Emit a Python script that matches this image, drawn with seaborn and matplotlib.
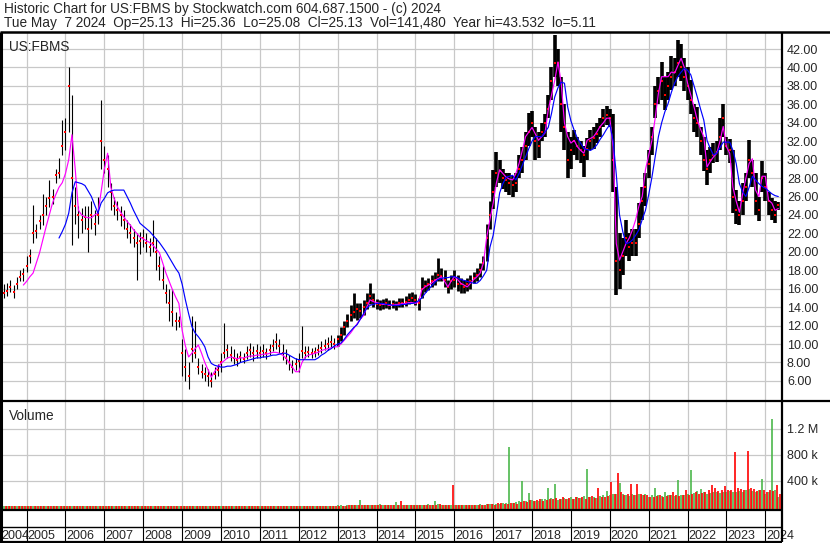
import numpy as np
import pandas as pd
import matplotlib
matplotlib.use("Agg")
import matplotlib.pyplot as plt
import seaborn as sns

sns.set_style("white")
plt.rcParams['font.family'] = ['Liberation Sans', 'DejaVu Sans']

nan = np.nan

# monthly bars, Jun 2004 .. May 2024
close = [
    15.5, 15.8, 16.2, 15.6, 16.5, 17.3, 17.6,                                # 2004
    18.5, 19.5, 22.0, 22.3, 23.3, 24.0, 25.0, 25.8, 26.0, 28.3, 28.5, 31.5,  # 2005
    33.0, 38.0, 28.0, 25.0, 24.0, 23.5, 23.8, 22.5, 24.0, 23.0, 24.0, 32.0,  # 2006
    30.0, 29.0, 26.5, 25.0, 24.5, 24.0, 23.5, 22.5, 22.0, 21.5, 21.0, 21.2,  # 2007
    21.5, 21.0, 20.5, 21.0, 20.0, 18.5, 17.0, 15.5, 14.5, 13.5, 12.5, 12.5,  # 2008
    9.0, 7.5, 6.5, 9.5, 9.0, 7.5, 7.0, 6.8, 6.5, 6.0, 6.8, 7.2,              # 2009
    8.0, 9.0, 9.3, 8.8, 8.5, 8.3, 8.6, 8.4, 9.0, 9.3, 9.0, 9.2,              # 2010
    9.0, 9.2, 9.0, 9.3, 9.8, 10.2, 9.8, 9.0, 8.5, 8.0, 7.5, 7.8,             # 2011
    8.2, 9.2, 9.0, 9.1, 9.0, 9.1, 9.3, 9.6, 9.8, 10.0, 10.2, 10.0,           # 2012
    10.5, 11.0, 11.8, 12.5, 13.2, 13.5, 13.8, 13.6, 14.0, 14.5, 15.2, 14.8,  # 2013
    14.3, 14.2, 14.3, 14.4, 14.2, 14.3, 14.2, 14.5, 14.4, 14.6, 14.8, 15.0,  # 2014
    14.8, 14.5, 16.0, 16.3, 16.5, 16.8, 17.0, 17.5, 17.4, 17.0, 16.2, 16.8,  # 2015
    17.0, 16.5, 16.5, 16.2, 16.5, 16.8, 17.2, 17.5, 18.0, 18.8, 21.5, 24.0,  # 2016
    26.5, 28.5, 28.8, 28.0, 27.8, 27.5, 27.2, 27.5, 29.0, 30.0, 31.5, 33.0,  # 2017
    34.0, 32.0, 31.5, 33.0, 34.0, 35.5, 38.5, 40.5, 40.5, 36.0, 33.5, 30.0,  # 2018
    31.0, 32.0, 31.5, 31.0, 30.5, 31.2, 32.0, 32.3, 32.8, 33.5, 34.5, 34.8,  # 2019
    34.5, 30.0, 19.0, 18.0, 19.5, 21.5, 20.5, 21.0, 21.0, 23.0, 25.5, 27.0,  # 2020
    29.5, 32.5, 36.0, 37.5, 38.5, 37.0, 38.0, 39.0, 39.5, 40.5, 40.0, 39.0,  # 2021
    38.0, 36.5, 34.5, 34.0, 32.0, 30.0, 29.0, 30.0, 30.5, 30.8, 32.5, 34.5,  # 2022
    31.5, 31.0, 26.0, 24.5, 24.0, 25.5, 27.0, 30.0, 28.5, 25.5, 24.5, 28.0,  # 2023
    27.0, 25.5, 24.5, 24.0, 25.13,                                           # 2024
]
high = [
    16.5, 16.6, 17.0, 16.4, 17.3, 18.0, 18.3,
    19.5, 20.3, 25.1, 23.0, 24.0, 26.3, 26.0, 27.8, 26.8, 29.0, 30.2, 34.3,
    34.5, 40.0, 37.0, 27.0, 25.0, 24.8, 25.0, 25.0, 25.5, 24.5, 26.0, 36.5,
    31.5, 30.5, 27.5, 26.0, 25.5, 25.0, 24.5, 23.5, 23.0, 22.5, 22.0, 22.2,
    22.5, 22.0, 21.5, 23.5, 21.5, 19.5, 18.5, 16.5, 16.0, 16.0, 13.5, 13.0,
    10.5, 9.5, 8.0, 13.0, 12.5, 8.5, 7.8, 7.5, 7.3, 7.0, 7.5, 7.8,
    9.0, 12.3, 10.0, 9.8, 9.5, 9.0, 9.2, 9.0, 9.8, 10.1, 9.8, 10.0,
    9.8, 10.0, 9.6, 10.0, 10.6, 11.2, 10.5, 10.0, 9.5, 8.8, 8.3, 8.5,
    9.0, 12.0, 9.8, 9.8, 9.6, 9.7, 10.0, 10.3, 10.6, 10.8, 11.0, 10.7,
    11.0, 11.8, 12.5, 13.3, 14.2, 15.5, 14.5, 14.5, 14.8, 15.5, 16.6, 15.5,
    14.9, 14.8, 14.9, 15.0, 14.8, 14.8, 14.7, 15.0, 15.0, 15.2, 15.5, 15.6,
    15.4, 15.0, 17.3, 17.0, 17.2, 17.5, 17.8, 19.3, 18.2, 18.0, 17.0, 17.5,
    18.0, 17.5, 17.2, 17.0, 17.2, 17.5, 17.8, 18.2, 18.8, 19.6, 23.0, 25.5,
    28.9, 30.8, 30.0, 29.0, 28.6, 28.5, 28.2, 28.5, 30.5, 31.4, 33.0, 35.1,
    35.3, 33.5, 33.0, 34.0, 35.0, 37.0, 40.0, 43.5, 42.0, 39.0, 36.0, 33.0,
    32.5, 33.2, 32.5, 32.0, 31.5, 32.3, 33.2, 33.5, 34.0, 34.5, 35.5, 35.8,
    35.5, 35.0, 27.0, 22.0, 21.5, 23.5, 22.0, 22.5, 22.5, 25.3, 27.0, 28.5,
    31.0, 33.5, 38.0, 39.0, 40.6, 39.0, 39.5, 41.2, 41.0, 43.0, 42.5, 41.0,
    40.0, 38.6, 36.0, 35.7, 33.5, 32.5, 31.0, 31.4, 31.8, 32.0, 34.5, 36.0,
    32.5, 32.2, 31.0, 26.7, 25.5, 27.5, 28.5, 32.1, 30.0, 28.5, 26.0, 29.9,
    28.5, 26.5, 25.8, 25.5, 25.36,
]
low = [
    15.0, 15.2, 15.6, 15.0, 16.0, 16.8, 16.8,
    17.8, 18.8, 21.0, 21.5, 22.5, 22.9, 24.0, 24.9, 25.2, 27.5, 28.0, 30.5,
    31.0, 33.0, 20.7, 23.0, 21.5, 22.0, 22.5, 20.0, 22.5, 21.8, 23.0, 29.0,
    28.5, 27.0, 24.5, 24.0, 23.5, 22.8, 22.5, 21.5, 21.0, 20.5, 17.0, 19.8,
    20.5, 20.0, 19.5, 20.0, 18.0, 17.0, 16.0, 14.5, 12.5, 12.0, 11.5, 11.8,
    6.5, 6.0, 5.11, 8.0, 8.5, 6.8, 6.3, 6.0, 5.5, 5.3, 6.2, 6.5,
    7.0, 8.5, 8.5, 8.2, 7.8, 7.6, 8.0, 7.9, 8.4, 8.6, 8.2, 8.5,
    8.5, 8.6, 8.4, 8.8, 9.2, 9.5, 9.0, 8.3, 7.8, 7.2, 6.9, 7.2,
    7.0, 8.5, 8.5, 8.6, 8.5, 8.6, 8.8, 9.0, 9.3, 9.4, 9.6, 9.5,
    9.8, 10.3, 11.0, 11.8, 12.5, 12.8, 12.6, 12.8, 13.2, 13.8, 14.3, 14.0,
    13.8, 13.7, 13.8, 13.9, 13.8, 13.9, 13.7, 14.0, 14.0, 14.1, 14.3, 14.4,
    14.2, 13.7, 15.0, 15.6, 15.9, 16.2, 16.4, 16.8, 16.8, 16.2, 15.5, 16.0,
    16.2, 15.8, 15.5, 15.5, 15.8, 16.0, 16.6, 16.8, 17.3, 18.0, 19.0, 22.5,
    24.6, 27.0, 27.5, 26.8, 26.5, 26.2, 26.0, 26.5, 28.0, 28.6, 30.0, 31.5,
    32.5, 30.0, 30.2, 32.0, 32.5, 34.5, 36.5, 39.0, 38.0, 33.0, 31.0, 28.0,
    29.0, 30.5, 30.0, 29.6, 28.1, 30.0, 31.0, 31.2, 31.8, 32.5, 33.5, 33.8,
    33.5, 26.5, 15.3, 16.0, 17.5, 19.5, 19.0, 19.5, 19.5, 21.5, 23.5, 25.0,
    28.0, 30.5, 34.5, 36.0, 36.5, 35.4, 36.5, 37.6, 38.0, 39.0, 38.5, 37.5,
    36.5, 35.0, 33.0, 32.5, 30.5, 28.8, 27.2, 28.5, 29.6, 29.8, 31.0, 32.5,
    30.5, 29.6, 24.2, 23.0, 22.9, 24.0, 25.5, 28.0, 27.0, 24.0, 23.3, 26.5,
    25.5, 24.0, 23.5, 23.1, 24.5,
]
# short moving average (magenta)
ma_fast = [
    nan, nan, nan, nan, nan, nan, 16.4,
    16.8, 17.3, 17.7, 18.8, 19.9, 21.3, 22.7, 24.0, 25.3, 26.2, 27.0, 27.5,
    28.5, 30.0, 32.7, 29.0, 24.5, 24.0, 23.8, 23.7, 23.7, 24.0, 24.2, 26.5,
    29.0, 30.7, 27.0, 25.8, 24.9, 24.3, 23.8, 23.3, 22.9, 22.4, 22.0, 21.6,
    21.4, 21.2, 21.0, 20.7, 20.3, 19.9, 18.8, 17.7, 16.8, 15.9, 15.1, 14.4,
    11.5, 9.8, 8.6, 9.0, 9.5, 9.9, 9.0, 8.0, 7.2, 6.4, 7.0, 7.5,
    7.9, 8.2, 8.5, 8.6, 8.5, 8.4, 8.5, 8.5, 8.6, 8.7, 8.7, 8.8,
    8.8, 8.9, 8.9, 9.0, 9.1, 9.1, 9.0, 8.8, 8.5, 8.0, 7.5, 7.0,
    7.0, 8.0, 8.6, 8.8, 8.9, 9.0, 9.1, 9.3, 9.4, 9.5, 9.6, 9.7,
    9.7, 10.0, 10.4, 10.8, 11.2, 11.7, 12.2, 12.7, 13.1, 14.0, 14.8, 14.6,
    14.5, 14.4, 14.3, 14.3, 14.2, 14.2, 14.3, 14.3, 14.4, 14.4, 14.5, 14.5,
    14.4, 14.6, 15.9, 16.2, 16.4, 16.6, 16.9, 17.1, 17.3, 16.8, 16.2, 16.8,
    17.3, 17.0, 16.6, 16.4, 16.2, 16.6, 17.0, 17.3, 17.7, 18.8, 21.6, 23.5,
    25.3, 27.5, 28.9, 28.5, 28.1, 27.9, 27.8, 28.5, 29.6, 31.0, 32.5, 33.0,
    33.5, 32.8, 32.1, 32.5, 32.9, 35.4, 37.0, 38.6, 40.6, 38.3, 34.0, 32.5,
    31.8, 32.1, 31.4, 31.0, 30.7, 32.1, 32.3, 32.5, 33.0, 33.6, 34.0, 34.5,
    34.5, 31.4, 20.9, 19.1, 20.0, 20.9, 21.5, 22.4, 23.5, 25.0, 26.0, 28.9,
    30.5, 32.1, 34.5, 37.2, 39.0, 39.0, 39.0, 39.5, 39.4, 40.2, 41.0, 40.0,
    38.3, 37.0, 35.7, 34.3, 33.3, 32.5, 29.2, 29.8, 30.3, 30.7, 32.0, 33.6,
    31.4, 30.7, 27.0, 25.5, 24.3, 26.3, 28.0, 29.6, 30.1, 26.7, 26.0, 28.2,
    28.2, 25.6, 25.3, 24.5, 24.7,
]
# long moving average (blue)
ma_slow = [
    nan, nan, nan, nan, nan, nan, nan,
    nan, nan, nan, nan, nan, nan, nan, nan, nan, nan, 21.5, 22.2,
    23.0, 24.2, 26.4, 27.6, 27.5, 27.4, 27.2, 26.6, 26.0, 25.1, 24.2, 25.3,
    25.8, 26.4, 26.6, 26.7, 26.7, 26.7, 26.7, 26.0, 25.3, 24.5, 23.8, 23.1,
    22.8, 22.5, 22.2, 21.8, 21.4, 21.0, 20.5, 20.0, 19.4, 18.8, 18.2, 17.7,
    16.5, 14.8, 13.3, 11.9, 11.2, 10.8, 10.3, 9.7, 8.6, 7.9, 7.7, 7.6,
    7.5, 7.5, 7.6, 7.6, 7.7, 7.8, 8.0, 8.1, 8.2, 8.3, 8.4, 8.5,
    8.5, 8.6, 8.6, 8.7, 8.8, 8.8, 8.9, 9.0, 9.0, 8.8, 8.6, 8.4,
    8.3, 8.3, 8.3, 8.3, 8.3, 8.3, 8.5, 8.8, 9.0, 9.3, 9.5, 9.8,
    10.0, 10.1, 10.5, 11.0, 11.4, 11.8, 12.1, 12.7, 13.3, 13.9, 14.2, 14.3,
    14.4, 14.4, 14.4, 14.3, 14.3, 14.2, 14.2, 14.2, 14.3, 14.3, 14.4, 14.4,
    14.5, 14.7, 15.0, 15.5, 15.9, 16.3, 16.7, 17.0, 17.1, 17.2, 17.2, 17.3,
    17.3, 17.2, 17.0, 16.9, 16.8, 16.7, 16.6, 16.6, 16.9, 17.4, 18.0, 20.5,
    21.8, 24.0, 26.4, 27.4, 28.1, 28.2, 28.3, 27.8, 28.5, 29.4, 30.3, 31.2,
    32.0, 32.5, 32.5, 32.5, 33.0, 33.5, 35.0, 36.8, 37.8, 38.4, 38.3, 35.7,
    34.2, 33.2, 32.3, 31.8, 31.2, 31.1, 31.0, 31.2, 31.6, 32.2, 32.7, 33.3,
    33.8, 32.1, 28.4, 24.0, 22.2, 20.9, 21.0, 21.3, 21.8, 22.4, 23.5, 24.5,
    26.2, 28.1, 30.3, 32.5, 34.0, 35.2, 36.1, 37.3, 38.3, 39.0, 39.5, 39.9,
    39.7, 39.2, 38.0, 36.8, 35.5, 34.3, 32.1, 31.2, 30.5, 30.7, 31.3, 31.9,
    31.9, 31.9, 31.0, 29.6, 27.4, 26.5, 26.0, 27.0, 28.2, 27.8, 27.4, 27.1,
    26.9, 26.6, 26.3, 26.1, 26.0,
]
# volume (thousands): up days (green) and down days (red)
vol_up = [
    4, 3, 5, 3, 4, 6, 5,
    5, 4, 6, 5, 4, 6, 5, 7, 5, 6, 8, 6,
    8, 10, 6, 5, 4, 5, 4, 5, 6, 5, 7, 9,
    6, 5, 4, 5, 4, 5, 4, 4, 5, 4, 5, 4,
    5, 4, 5, 6, 5, 4, 5, 6, 5, 7, 5, 6,
    7, 6, 8, 10, 8, 6, 5, 6, 5, 6, 5, 6,
    6, 8, 6, 5, 6, 5, 6, 5, 6, 7, 6, 5,
    6, 5, 6, 7, 8, 9, 7, 6, 5, 6, 5, 6,
    7, 15, 8, 7, 6, 7, 8, 9, 8, 10, 12, 14,
    28, 18, 15, 18, 20, 25, 30, 100, 22, 28, 30, 22,
    22, 36, 25, 20, 22, 25, 70, 20, 25, 22, 28, 30,
    30, 25, 28, 30, 35, 30, 77, 35, 30, 28, 25, 30,
    30, 28, 25, 30, 28, 25, 30, 28, 32, 30, 45, 40,
    45, 40, 35, 60, 55, 918, 50, 70, 80, 395, 90, 210,
    100, 90, 80, 120, 110, 287, 130, 349, 100, 120, 128, 110,
    150, 120, 140, 130, 160, 575, 140, 150, 130, 160, 170, 236,
    180, 200, 200, 354, 200, 170, 160, 190, 180, 200, 170, 190,
    150, 170, 282, 180, 160, 220, 170, 180, 160, 405, 170, 180,
    200, 559, 210, 241, 272, 220, 200, 210, 230, 220, 210, 230,
    220, 236, 230, 220, 240, 230, 250, 262, 240, 230, 250, 421,
    200, 230, 1344, 250, 149,
]
vol_down = [
    3, 4, 3, 5, 3, 4, 4,
    4, 5, 4, 6, 5, 4, 6, 5, 4, 5, 6, 7,
    6, 12, 9, 6, 5, 4, 5, 6, 5, 4, 6, 8,
    7, 6, 5, 6, 5, 4, 5, 5, 4, 5, 6, 5,
    5, 6, 5, 5, 6, 5, 8, 6, 7, 9, 6, 5,
    8, 9, 10, 7, 6, 7, 6, 5, 6, 7, 5, 5,
    5, 6, 7, 6, 5, 6, 5, 6, 5, 6, 5, 6,
    5, 6, 5, 6, 7, 6, 8, 7, 8, 7, 6, 5,
    8, 10, 7, 6, 7, 6, 7, 8, 9, 8, 10, 12,
    15, 12, 14, 16, 18, 20, 22, 25, 18, 20, 24, 20,
    18, 20, 22, 18, 20, 22, 25, 80, 20, 24, 22, 25,
    25, 30, 22, 28, 25, 30, 28, 32, 25, 30, 28, 330,
    25, 30, 22, 25, 30, 28, 25, 30, 28, 25, 40, 35,
    30, 60, 50, 40, 45, 60, 55, 45, 70, 80, 75, 95,
    80, 95, 110, 90, 100, 120, 110, 130, 115, 140, 120, 130,
    120, 140, 130, 150, 120, 140, 160, 130, 282, 150, 140, 160,
    380, 200, 518, 220, 180, 190, 349, 180, 339, 190, 170, 180,
    140, 150, 160, 170, 150, 160, 180, 220, 170, 160, 180, 251,
    180, 200, 220, 190, 210, 230, 250, 328, 292, 240, 260, 313,
    250, 260, 836, 280, 270, 260, 852, 280, 270, 236, 260, 251,
    220, 260, 240, 328, 200,
]
years = list(range(2004, 2025))
price_ticks = list(range(6, 44, 2))
vol_ticks = [400, 800, 1200]
vol_labels = ["400 k", "800 k", "1.2 M"]

title1 = "Historic Chart for US:FBMS by Stockwatch.com 604.687.1500 - (c) 2024"
title2 = "Tue May  7 2024  Op=25.13  Hi=25.36  Lo=25.08  Cl=25.13  Vol=141,480  Year hi=43.532  lo=5.11"

dates = pd.date_range("2004-06-01", periods=len(close), freq="MS")
t = dates.year + (dates.month - 1) / 12.0
df = pd.DataFrame({"t": t, "close": close, "high": high, "low": low,
                   "ma_fast": ma_fast, "ma_slow": ma_slow,
                   "up": vol_up, "down": vol_down})

W, H = 830, 543
fig = plt.figure(figsize=(W / 100, H / 100), dpi=100)


def box(x0, y0, x1, y1):
    return [x0 / W, 1 - y1 / H, (x1 - x0) / W, (y1 - y0) / H]


XMIN, XMAX = 2004.367, 2024.403
GRID = "#c8c8c8"
FS = 9
FS_TXT = 9.8

ax_p = fig.add_axes(box(2, 33, 781, 400))
ax_v = fig.add_axes(box(2, 402, 781, 509))
ax_x = fig.add_axes(box(2, 509, 781, 542))

for ax in (ax_p, ax_v, ax_x):
    ax.set_xlim(XMIN, XMAX)
    for s in ax.spines.values():
        s.set_visible(False)
    ax.set_axisbelow(True)

# price panel
ax_p.set_ylim(3.93, 43.74)
ax_p.set_xticks(years[1:])
ax_p.set_yticks(price_ticks)
ax_p.set_yticklabels([f"{v:.2f}" for v in price_ticks])
ax_p.yaxis.tick_right()
ax_p.tick_params(axis="y", length=0, pad=4.3, labelsize=FS)
ax_p.tick_params(axis="x", length=0, labelbottom=False)
ax_p.grid(True, color=GRID, lw=0.9)

bar_w = np.where(df["t"] < 2013, 0.8, np.where(df["t"] < 2017, 2.0, 2.6))
ax_p.vlines(df["t"], df["low"], df["high"], colors="black", linewidths=bar_w, zorder=2)
sns.scatterplot(data=df, x="t", y="close", marker="s", s=3.5, color="red",
                linewidth=0, ax=ax_p, zorder=3)
sns.lineplot(data=df, x="t", y="ma_fast", color="#ff00ff", lw=0.85, ax=ax_p, zorder=4)
sns.lineplot(data=df, x="t", y="ma_slow", color="#0000ff", lw=0.85, ax=ax_p, zorder=5)
ax_p.set_xlabel("")
ax_p.set_ylabel("")
ax_p.set_xlim(XMIN, XMAX)
ax_p.set_ylim(3.93, 43.74)
ax_p.text(0.009, 0.99 - 3 / 367, "US:FBMS", transform=ax_p.transAxes,
          fontsize=FS_TXT, va="top", ha="left")

# volume panel
VFLOOR = -38.5
ax_v.set_ylim(VFLOOR, 1608)
ax_v.set_xticks(years[1:])
ax_v.set_yticks(vol_ticks)
ax_v.set_yticklabels(vol_labels)
ax_v.yaxis.tick_right()
ax_v.tick_params(axis="y", length=0, pad=4.3, labelsize=FS)
ax_v.tick_params(axis="x", length=0, labelbottom=False)
ax_v.grid(True, color=GRID, lw=0.9)
ax_v.vlines(df["t"], VFLOOR, df["up"], colors="#4cb84c", linewidths=1.2, zorder=2)
ax_v.vlines(df["t"] + 1 / 24, VFLOOR, df["down"], colors="#ff0000", linewidths=1.2, zorder=2)
ax_v.text(0.009, 1 - 7 / 107, "Volume", transform=ax_v.transAxes,
          fontsize=FS_TXT, va="top", ha="left")

# date strip
ax_x.set_ylim(0, 33)
ax_x.set_xticks([])
ax_x.set_yticks([])
ax_x.vlines(years[1:], 0, 33, colors="black", lw=0.8)
for i, yr in enumerate(years):
    xx = XMIN - 0.02 if i == 0 else yr + 0.025
    ax_x.text(xx, 3, str(yr), fontsize=FS, ha="left", va="baseline", clip_on=False)

# frame lines and header, in pixel space
ov = fig.add_axes([0, 0, 1, 1], zorder=10)
ov.set_xlim(0, W)
ov.set_ylim(H, 0)
ov.axis("off")
ov.patch.set_alpha(0)
ov.hlines(32, 0, W, colors="black", lw=1.8)
ov.vlines(1, 32, H, colors="black", lw=2.2)
ov.vlines(781.5, 32, 542, colors="black", lw=1.6)
ov.hlines(401, 0, W, colors="black", lw=1.6)
ov.hlines(509.5, 0, 782, colors="black", lw=1.6)
ov.hlines(527, 0, 782, colors="black", lw=1.0)
ov.hlines(541.5, 0, 782, colors="black", lw=1.6)
ov.text(4, 12.7, title1, fontsize=FS_TXT, va="baseline", ha="left")
ov.text(4, 27.3, title2, fontsize=FS_TXT, va="baseline", ha="left")

fig.savefig("out.png", dpi=100)
